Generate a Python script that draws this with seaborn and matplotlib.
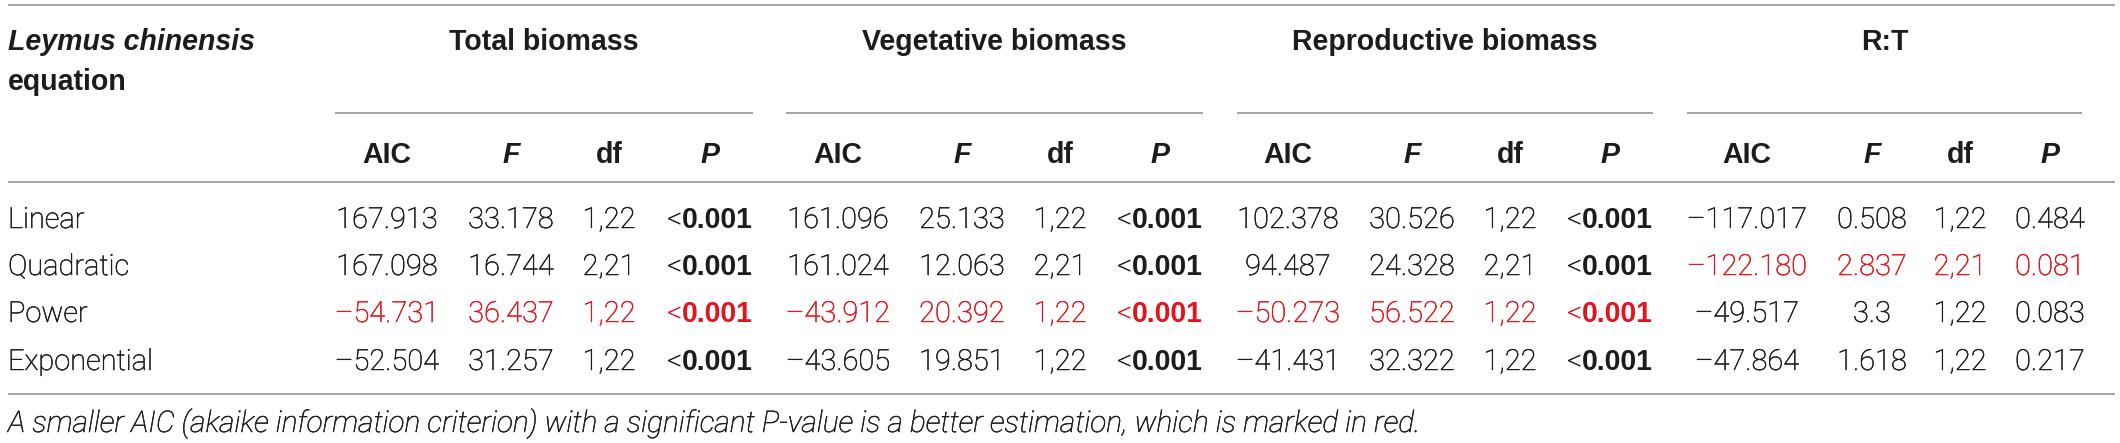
import matplotlib
matplotlib.use("Agg")
import matplotlib.pyplot as plt
import matplotlib.patheffects as pe
import seaborn as sns
import pandas as pd
from matplotlib import font_manager as fm

# ---------------- data ----------------
models = ["Linear", "Quadratic", "Power", "Exponential"]
groups = ["Total biomass", "Vegetative biomass", "Reproductive biomass", "R:T"]
stats = ["AIC", "F", "df", "P"]

total_aic = ["167.913", "167.098", "\u201354.731", "\u201352.504"]
total_f = ["33.178", "16.744", "36.437", "31.257"]
total_df = ["1,22", "2,21", "1,22", "1,22"]
total_p = ["<0.001", "<0.001", "<0.001", "<0.001"]

veg_aic = ["161.096", "161.024", "\u201343.912", "\u201343.605"]
veg_f = ["25.133", "12.063", "20.392", "19.851"]
veg_df = ["1,22", "2,21", "1,22", "1,22"]
veg_p = ["<0.001", "<0.001", "<0.001", "<0.001"]

rep_aic = ["102.378", "94.487", "\u201350.273", "\u201341.431"]
rep_f = ["30.526", "24.328", "56.522", "32.322"]
rep_df = ["1,22", "2,21", "1,22", "1,22"]
rep_p = ["<0.001", "<0.001", "<0.001", "<0.001"]

rt_aic = ["\u2013117.017", "\u2013122.180", "\u201349.517", "\u201347.864"]
rt_f = ["0.508", "2.837", "3.3", "1.618"]
rt_df = ["1,22", "2,21", "1,22", "1,22"]
rt_p = ["0.484", "0.081", "0.083", "0.217"]

best_model = ["Power", "Power", "Power", "Quadratic"]  # marked in red
footnote = ("A smaller AIC (akaike information criterion) with a significant "
            "P-value is a better estimation, which is marked in red.")

group_cols = [
    [total_aic, total_f, total_df, total_p],
    [veg_aic, veg_f, veg_df, veg_p],
    [rep_aic, rep_f, rep_df, rep_p],
    [rt_aic, rt_f, rt_df, rt_p],
]
table = pd.DataFrame(
    {(g, s): col for g, cols in zip(groups, group_cols) for s, col in zip(stats, cols)},
    index=models,
)

# ---------------- style ----------------
sns.set_theme(style="white")
TXT = "#1e1b1c"
RED = "#e3151c"
LINE = "#8a8a8a"

def has_font(name, weights):
    for f in fm.fontManager.ttflist:
        if f.name == name and str(f.weight) in weights:
            return True
    return False

LIGHT = has_font("Roboto", {"300", "light"})
if LIGHT:
    BODY = dict(family="Roboto", weight="light")
else:
    BODY = dict(family="Liberation Sans", weight="normal")
HEAD = dict(family="Liberation Sans", weight="bold")

def thicken(color):
    if not LIGHT:
        return None
    return [pe.withStroke(linewidth=0.35, foreground=color)]

W, H = 2120, 443
fig = plt.figure(figsize=(W / 100, H / 100), dpi=100)
ax = fig.add_axes([0, 0, 1, 1])
ax.set_xlim(0, W)
ax.set_ylim(H, 0)
ax.axis("off")

PX = 0.72  # px -> pt at 100 dpi
fs_body = 29.0 * PX
fs_head = 28.5 * PX

# layout (pixels)
x_left, x_right = 8, 2115
col_x = [[387, 511, 609, 710], [838, 962, 1060, 1160],
         [1288, 1412, 1510, 1610], [1747, 1872, 1960, 2050]]
spans = [(335, 753), (786, 1203), (1237, 1653), (1687, 2082)]
y_group, y_eq, y_stat = 50, 90, 163
row_y = [228, 275, 322, 370]
y_note = 432
note_right = 1418

# rules
ax.hlines([5, 182, 394], x_left, x_right, color=LINE, lw=1.1)
for a, b in spans:
    ax.hlines(113, a, b, color=LINE, lw=1.1)

# header
ax.text(x_left, y_group, "Leymus chinensis", fontsize=fs_head, style="italic",
        color=TXT, va="baseline", ha="left", **HEAD)
ax.text(x_left, y_eq, "equation", fontsize=fs_head, color=TXT,
        va="baseline", ha="left", **HEAD)
for g, (a, b) in zip(groups, spans):
    ax.text((a + b) / 2, y_group, g, fontsize=fs_head, color=TXT,
            va="baseline", ha="center", **HEAD)
for xs in col_x:
    for s, x in zip(stats, xs):
        st = "italic" if s in ("F", "P") else "normal"
        ax.text(x, y_stat, s, fontsize=fs_head, style=st, color=TXT,
                va="baseline", ha="center", **HEAD)

fig.canvas.draw()
renderer = fig.canvas.get_renderer()

def text_width(s, **kw):
    t = ax.text(0, 0, s, **kw)
    w = t.get_window_extent(renderer).width
    t.remove()
    return w

# body rows
for i, m in enumerate(models):
    y = row_y[i]
    ax.text(x_left, y, m, fontsize=fs_body, color=TXT, va="baseline", ha="left",
            path_effects=thicken(TXT), **BODY)
    for gi, g in enumerate(groups):
        c = RED if best_model[gi] == m else TXT
        for s, x in zip(stats, col_x[gi]):
            v = table.loc[m, (g, s)]
            if v.startswith("<"):
                w1 = text_width("<", fontsize=fs_body, **BODY)
                w2 = text_width(v[1:], fontsize=fs_head, **HEAD)
                left = x - (w1 + w2) / 2
                ax.text(left, y, "<", fontsize=fs_body, color=c,
                        va="baseline", ha="left", path_effects=thicken(c), **BODY)
                ax.text(left + w1, y, v[1:], fontsize=fs_head, color=c,
                        va="baseline", ha="left", **HEAD)
            else:
                ax.text(x, y, v, fontsize=fs_body, color=c,
                        va="baseline", ha="center", path_effects=thicken(c), **BODY)

# footnote sized to span the same width as in the reference
w_note = text_width(footnote, fontsize=10, style="italic", **BODY)
fs_note = 10 * (note_right - x_left) / w_note
ax.text(x_left, y_note, footnote, fontsize=fs_note, style="italic", color=TXT,
        va="baseline", ha="left", path_effects=thicken(TXT), **BODY)

fig.savefig("out.png", dpi=100, facecolor="white")
